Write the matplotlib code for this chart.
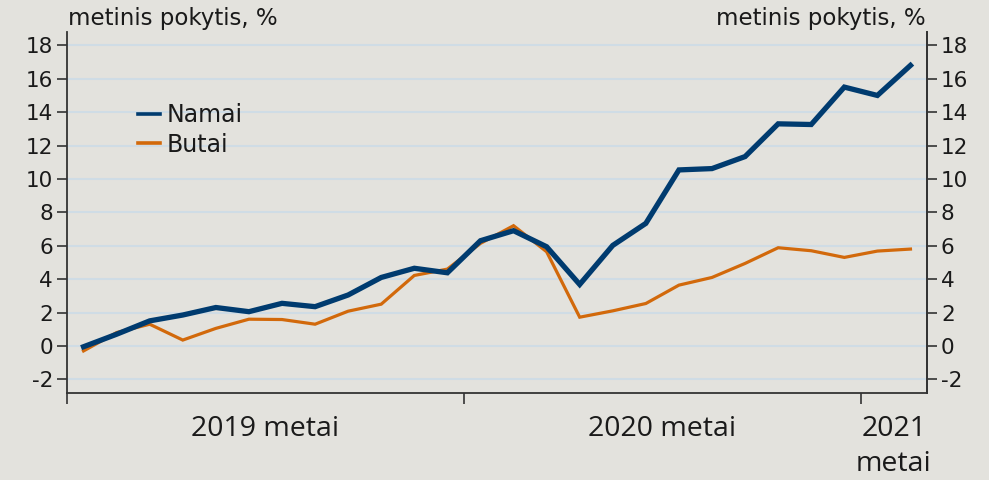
import matplotlib
matplotlib.use("Agg")
import matplotlib.pyplot as plt
from matplotlib.ticker import FixedLocator, NullFormatter, FixedFormatter
from matplotlib.lines import Line2D

# Data: monthly, Jan 2019 .. Feb 2021
namai = [-0.05, 0.70, 1.50, 1.85, 2.30, 2.05, 2.55, 2.35, 3.05, 4.10, 4.65, 4.38,
         6.30, 6.90, 5.94, 3.68, 6.02, 7.34, 10.54, 10.62, 11.34, 13.30, 13.26,
         15.50, 15.00, 16.80]
butai = [-0.30, 0.80, 1.30, 0.35, 1.05, 1.60, 1.58, 1.30, 2.08, 2.50, 4.22, 4.60,
         6.14, 7.20, 5.64, 1.72, 2.10, 2.54, 3.64, 4.10, 4.94, 5.88, 5.70, 5.30,
         5.68, 5.80]
year_labels = ["2019 metai", "2020 metai", "2021\nmetai"]
year_label_pos = [5.5, 17.5, 24.5]
year_bounds = [-0.5, 11.5, 23.5]
yticks = list(range(-2, 19, 2))
unit_label = "metinis pokytis, %"

BG = "#E3E2DD"
GRID = "#CFDCE5"
NAVY = "#003B6F"
ORANGE = "#D2690B"
TXT = "#1a1a1a"

fig = plt.figure(figsize=(9.89, 4.8), dpi=100, facecolor=BG)
ax = fig.add_axes([67/989, 87/480, (927-67)/989, (393-32)/480], facecolor=BG)

x = list(range(len(namai)))
ax.set_xlim(-0.5, 25.5)
ax.set_ylim(-2.82, 18.8)

for v in yticks:
    ax.axhline(v, color=GRID, lw=1.5, zorder=0)

ax.plot(x, butai, color=ORANGE, lw=2.3, zorder=3, solid_joinstyle="miter")
ax.plot(x, namai, color=NAVY, lw=3.8, zorder=4, solid_joinstyle="miter")

ax.spines["top"].set_visible(False)
for s in ["left", "bottom", "right"]:
    ax.spines[s].set_color("#333333")
    ax.spines[s].set_linewidth(1.3)

ax.set_yticks(yticks)
ax.set_yticklabels([str(v) for v in yticks])
ax.tick_params(axis="y", direction="out", length=7, width=1.2, color="#333333",
               labelsize=15.5, labelcolor=TXT, pad=3)

ax.xaxis.set_major_locator(FixedLocator(year_bounds))
ax.xaxis.set_major_formatter(NullFormatter())
ax.xaxis.set_minor_locator(FixedLocator(year_label_pos))
ax.xaxis.set_minor_formatter(FixedFormatter(year_labels))
ax.tick_params(axis="x", which="major", direction="out", length=8, width=1.2, color="#333333")
ax.tick_params(axis="x", which="minor", length=0, pad=16)
for lab in ax.xaxis.get_minorticklabels():
    lab.set_fontfamily("Open Sans")
    lab.set_fontsize(20.5)
    lab.set_color(TXT)
    lab.set_linespacing(1.3)

ax2 = ax.twinx()
ax2.set_ylim(ax.get_ylim())
ax2.set_yticks(yticks)
ax2.set_yticklabels([str(v) for v in yticks])
ax2.tick_params(axis="y", direction="out", length=7, width=1.2, color="#333333",
                labelsize=15.5, labelcolor=TXT, pad=3)
for s in ["top", "left", "bottom"]:
    ax2.spines[s].set_visible(False)
ax2.spines["right"].set_color("#333333")
ax2.spines["right"].set_linewidth(1.3)

fig.text(68/989, 1 - 19/480, unit_label, ha="left", va="center", fontsize=16.5, color=TXT)
fig.text(926/989, 1 - 19/480, unit_label, ha="right", va="center", fontsize=16.5, color=TXT)

handles = [Line2D([], [], color=NAVY, lw=2.6), Line2D([], [], color=ORANGE, lw=2.6)]
leg = ax.legend(handles, ["Namai", "Butai"], loc="upper left", bbox_to_anchor=(0.072, 0.83),
                frameon=False, fontsize=17, handlelength=0.9, handletextpad=0.3,
                labelspacing=0.25, borderaxespad=0)
for t in leg.get_texts():
    t.set_color(TXT)

fig.savefig("out.png", dpi=100, facecolor=BG)
